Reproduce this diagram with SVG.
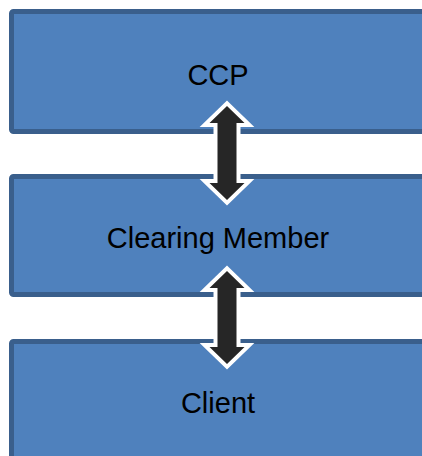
<svg xmlns="http://www.w3.org/2000/svg" width="422" height="456" viewBox="0 0 422 456">
<style>
.box{fill:#4f81bd;stroke:#3a5f8c;stroke-width:5}
.lbl{font-family:"Liberation Sans",Arial,sans-serif;font-size:29px;fill:#000;text-anchor:middle}
.arr{fill:#262626;stroke:#fff;stroke-width:8;stroke-linejoin:miter;stroke-miterlimit:10;paint-order:stroke}
</style>
<rect width="422" height="456" fill="#fff"/>
<g id="ccp">
<rect class="box" x="11.5" y="11.5" width="413" height="120" rx="2"/>
<text class="lbl" x="218" y="85">CCP</text>
</g>
<g id="clearing-member">
<rect class="box" x="11.5" y="176.5" width="413" height="118" rx="2"/>
<text class="lbl" x="218" y="248">Clearing Member</text>
</g>
<g id="client">
<rect class="box" x="11.5" y="341.5" width="413" height="120" rx="2"/>
<text class="lbl" x="218" y="413">Client</text>
</g>
<g id="connectors">
<path class="arr" d="M227,106 L244.5,123 L236.5,123 L236.5,183 L244.5,183 L227,200 L209.5,183 L217.5,183 L217.5,123 L209.5,123 Z"/>
<path class="arr" d="M227,271 L244.5,288 L236.5,288 L236.5,347 L244.5,347 L227,364 L209.5,347 L217.5,347 L217.5,288 L209.5,288 Z"/>
</g>
</svg>
